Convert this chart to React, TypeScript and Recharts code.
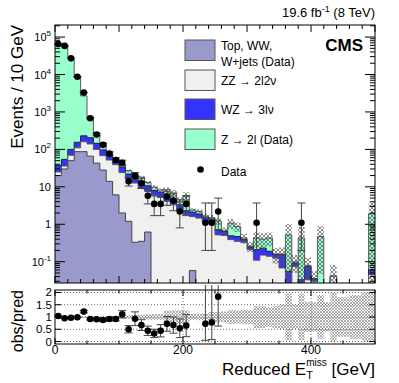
import React from 'react';
import { ComposedChart, Area, Scatter, ErrorBar, XAxis, YAxis, ReferenceLine } from 'recharts';

const FONT = '"Liberation Sans", Arial, Helvetica, "DejaVu Sans", sans-serif';

// ---- categories: lower edge of each 10 GeV bin ----
const binLowEdge = [
  0, 10, 20, 30, 40, 50, 60, 70, 80, 90,
  100, 110, 120, 130, 140, 150, 160, 170, 180, 190,
  200, 210, 220, 230, 240, 250, 260, 270, 280, 290,
  300, 310, 320, 330, 340, 350, 360, 370, 380, 390,
  400, 410, 420, 430, 440, 450, 460, 470, 480, 490,
];

// ---- stacked backgrounds (events / bin) ----
const topWwWjets = [
  20, 30, 50, 87, 87, 66, 43, 28, 14, 6.1,
  2.0, 1.2, 0.33, 0.35, 0.62, 0, 0, 0, 0, 0,
  0, 0.058, 0, 0, 0, 0, 0, 0, 0, 0,
  0, 0, 0, 0, 0, 0, 0, 0, 0, 0,
  0, 0, 0, 0, 0, 0, 0, 0, 0, 0,
];
const zz2l2nu = [
  5, 6, 20, 23, 73, 74, 57, 40, 38, 33,
  22, 14.8, 12.3, 8.9, 6.9, 6.0, 5.2, 4.1, 3.3, 2.3,
  1.8, 1.54, 1.46, 1.19, 1.07, 0.52, 0.5, 0.39, 0.35, 0.33,
  0.21, 0.11, 0.15, 0.14, 0.125, 0.068, 0.02, 0.075, 0.028, 0.033,
  0.03, 0.01, 0, 0.041, 0, 0, 0, 0, 0, 0.045,
];
const wz3lnu = [
  12, 18, 30, 45, 70, 65, 45, 29, 20, 14,
  10, 6, 6.4, 4.8, 3.1, 2.0, 2.0, 1.7, 1.2, 1.0,
  0.5, 0.5, 0.41, 0.31, 0.3, 0.19, 0.14, 0.1, 0.12, 0.06,
  0.04, 0.1, 0.08, 0.05, 0.03, 0.086, 0.035, 0.017, 0.005, 0.042,
  0.005, 0.01, 0, 0, 0, 0, 0, 0, 0, 0.017,
];
const z2lData = [
  63000, 60950, 27700, 8550, 2470, 535, 125, 53, 12, 4,
  6, 5, 3, 4, 2.4, 1.8, 1.0, 1.7, 2.0, 0.8,
  3.3, 0.3, 0.33, 0.15, 0.12, 0.5, 0.03, 0.58, 0.4, 0.04,
  0.01, 0.22, 0.17, 0.24, 0.005, 0.006, 0.465, 0.008, 0.4, 0.005,
  0, 0.45, 0, 0, 0, 0, 0, 0, 0, 1.85,
];
// relative uncertainty of the prediction (hatched band)
const relUncertainty = [
  0.03, 0.03, 0.03, 0.03, 0.04, 0.04, 0.04, 0.04, 0.04, 0.04,
  0.06, 0.07, 0.08, 0.09, 0.1, 0.12, 0.12, 0.27, 0.27, 0.27,
  0.28, 0.12, 0.13, 0.15, 0.2, 0.2, 0.22, 0.3, 0.28, 0.3,
  0.3, 0.45, 0.45, 0.4, 0.45, 0.5, 0.95, 0.5, 0.95, 0.6,
  0.6, 0.9, 0.6, 1.0, 0.8, 0.8, 0.9, 0.9, 1.0, 1.0,
];

// ---- observed data ----
const observed: (number | null)[] = [
  65500, 58000, 27000, 8700, 3300, 680, 250, 132, 77, 52,
  44, 14, 19.6, 12.5, 5.8, 3.5, 3.5, 5.5, 4.3, 2.2,
  3.5, null, null, 1.1, 1.1, 2.2, null, null, null, null,
  null, 1.1, null, null, null, null, null, null, 1.1, null,
  null, null, null, null, null, null, null, null, null, null,
];
const observedErrLow = [
  256, 240, 165, 93, 57, 26, 16, 11, 8.5, 7,
  6.5, 3.5, 4, 3.5, 2.3, 1.8, 1.8, 2.3, 2.0, 1.4,
  1.8, 0, 0, 0.9, 0.9, 1.5, 0, 0, 0, 0,
  0, 0.9, 0, 0, 0, 0, 0, 0, 0.9, 0,
  0, 0, 0, 0, 0, 0, 0, 0, 0, 0,
];
const observedErrHigh = [
  256, 240, 165, 93, 57, 26, 16, 12, 9.5, 8,
  7.5, 4, 4.5, 4, 2.7, 2.2, 2.2, 2.8, 2.5, 2.3,
  2.3, 0, 0, 2.6, 2.6, 2.8, 0, 0, 0, 0,
  0, 2.6, 0, 0, 0, 0, 0, 0, 2.6, 0,
  0, 0, 0, 0, 0, 0, 0, 0, 0, 0,
];

// ---- obs/pred ratio ----
const ratio: (number | null)[] = [
  1.04, 0.95, 0.97, 0.99, 1.22, 0.92, 0.91, 0.88, 0.92, 0.92,
  1.11, 0.5, 0.93, 0.67, 0.44, 0.33, 0.44, 0.72, 0.67, 0.54,
  0.65, null, null, 0.72, 0.78, 1.83, null, null, null, null,
  null, null, null, null, null, null, null, null, null, null,
  null, null, null, null, null, null, null, null, null, null,
];
const ratioErrLow = [
  0.01, 0.01, 0.01, 0.01, 0.05, 0.04, 0.05, 0.06, 0.07, 0.08,
  0.15, 0.15, 0.28, 0.22, 0.19, 0.17, 0.25, 0.3, 0.33, 0.38,
  0.45, 0, 0, 0.67, 0.7, 1.2, 0, 0, 0, 0,
  0, 0, 0, 0, 0, 0, 0, 0, 0, 0,
  0, 0, 0, 0, 0, 0, 0, 0, 0, 0,
];
const ratioErrHigh = [
  0.01, 0.01, 0.01, 0.01, 0.05, 0.04, 0.05, 0.06, 0.07, 0.08,
  0.15, 0.15, 0.28, 0.22, 0.19, 0.17, 0.25, 0.3, 0.33, 0.38,
  0.45, 0, 0, 1.6, 1.6, 1.8, 0, 0, 0, 0,
  0, 0, 0, 0, 0, 0, 0, 0, 0, 0,
  0, 0, 0, 0, 0, 0, 0, 0, 0, 0,
];

const COLORS = {
  top: '#9999cc',
  zz: '#f0f0f0',
  wz: '#3333ff',
  z2l: '#99ffcc',
};

const legendItems = [
  { lines: ['Top, WW,', 'W+jets (Data)'], color: COLORS.top },
  { lines: ['ZZ \u2192 2l2\u03bd'], color: COLORS.zz },
  { lines: ['WZ \u2192 3l\u03bd'], color: COLORS.wz },
  { lines: ['Z \u2192 2l (Data)'], color: COLORS.z2l },
];

// ---- layout ----
const W = 399;
const PLOT_L = 55;
const PLOT_R = 375;
const PW = PLOT_R - PLOT_L;
const MAIN_T = 25;
const MAIN_B = 283;
const MAIN_H = MAIN_B - MAIN_T;
const RAT_T = 290;
const RAT_B = 344;
const RAT_H = RAT_B - RAT_T;

const Y_MIN = 0.027;
const Y_MAX = 2.1e5;
const FLOOR = 1e-3;
const f = (v: number) => Math.max(v, FLOOR);

const mainRows: any[] = binLowEdge.map((x, i) => {
  const p = topWwWjets[i];
  const pz = p + zz2l2nu[i];
  const pzw = pz + wz3lnu[i];
  const t = pzw + z2lData[i];
  const e = relUncertainty[i];
  return {
    x,
    p: f(p),
    pz: f(pz),
    pzw: f(pzw),
    t: f(t),
    band: t > 0 ? [f(t * (1 - e)), f(t * (1 + e))] : [FLOOR, FLOOR],
    rband: [1 - e, 1 + e],
  };
});
mainRows.push({ ...mainRows[mainRows.length - 1], x: 500 });

const mainPoints = binLowEdge
  .map((x, i) =>
    observed[i] == null
      ? null
      : { x: x + 5, y: observed[i], err: [observedErrLow[i], observedErrHigh[i]] }
  )
  .filter(Boolean) as any[];

const ratioPoints = binLowEdge
  .map((x, i) =>
    ratio[i] == null ? null : { x: x + 5, y: ratio[i], err: [ratioErrLow[i], ratioErrHigh[i]] }
  )
  .filter(Boolean) as any[];

const logTicks: number[] = [];
for (let d = -2; d <= 5; d++) {
  for (let m = 1; m <= 9; m++) {
    const v = m * Math.pow(10, d);
    if (v >= Y_MIN && v <= Y_MAX) logTicks.push(v);
  }
}
const mainXTicks: number[] = [];
for (let v = 0; v <= 500; v += 20) mainXTicks.push(v);
const ratioXTicks: number[] = [];
for (let v = 0; v <= 500; v += 50) ratioXTicks.push(v);
const ratioYTicks = [0, 0.5, 1, 1.5, 2];

const MainYTick = (props: any) => {
  const { x, y, payload } = props;
  const v = payload.value;
  const lg = Math.log10(v);
  const ex = Math.round(lg);
  const major = Math.abs(lg - ex) < 1e-6;
  const len = major ? 10 : 5;
  let label: any = null;
  if (major) {
    if (ex === 0 || ex === 1) {
      label = (
        <text x={x - 4} y={y + 4} textAnchor="end" fontSize={11} fontFamily={FONT} fill="#000">
          {ex === 0 ? '1' : '10'}
        </text>
      );
    } else {
      label = (
        <text x={x - 4} y={y + 4} textAnchor="end" fontSize={11} fontFamily={FONT} fill="#000">
          10
          <tspan dy={-5} fontSize={8}>
            {String(ex)}
          </tspan>
        </text>
      );
    }
  }
  return (
    <g>
      <line x1={x} x2={x + len} y1={y} y2={y} stroke="#000" strokeWidth={1} />
      <line x1={x + PW} x2={x + PW - len} y1={y} y2={y} stroke="#000" strokeWidth={1} />
      {label}
    </g>
  );
};

const MainXTick = (props: any) => {
  const { x, y, payload } = props;
  const v = payload.value;
  const len = v % 100 === 0 ? 7 : 4;
  return (
    <g>
      <line x1={x} x2={x} y1={y} y2={y - len} stroke="#000" strokeWidth={1} />
      <line x1={x} x2={x} y1={y - MAIN_H} y2={y - MAIN_H + len} stroke="#000" strokeWidth={1} />
    </g>
  );
};

const RatioXTick = (props: any) => {
  const { x, y, payload } = props;
  const v = payload.value;
  const len = v % 200 === 0 ? 6 : 3.5;
  return (
    <g>
      <line x1={x} x2={x} y1={y} y2={y - len} stroke="#000" strokeWidth={1} />
      <line x1={x} x2={x} y1={y - RAT_H} y2={y - RAT_H + len} stroke="#000" strokeWidth={1} />
      {v % 200 === 0 && v < 500 ? (
        <text x={x} y={y + 9.5} textAnchor="middle" fontSize={12} fontFamily={FONT} fill="#000">
          {String(v)}
        </text>
      ) : null}
    </g>
  );
};

const RatioYTick = (props: any) => {
  const { x, y, payload } = props;
  const v = payload.value;
  return (
    <g>
      <line x1={x} x2={x + 6} y1={y} y2={y} stroke="#000" strokeWidth={1} />
      <line x1={x + PW} x2={x + PW - 6} y1={y} y2={y} stroke="#000" strokeWidth={1} />
      <text x={x - 3} y={y + 4} textAnchor="end" fontSize={11.5} fontFamily={FONT} fill="#000">
        {String(v)}
      </text>
    </g>
  );
};

const DataDot = (props: any) => {
  const { cx, cy } = props;
  if (cx == null || cy == null) return null;
  return <circle cx={cx} cy={cy} r={3.3} fill="#000" />;
};

export default function App() {
  return (
    <div
      style={{
        position: 'absolute',
        left: 0,
        top: 0,
        width: W,
        height: 383,
        background: '#fff',
        fontFamily: FONT,
      }}
    >
      <svg width={0} height={0} style={{ position: 'absolute' }}>
        <defs>
          <pattern id="hatchMain" width="4" height="4" patternUnits="userSpaceOnUse">
            <path d="M0,0 L4,4 M4,0 L0,4" stroke="#555" strokeWidth="0.7" />
          </pattern>
          <pattern id="hatchRatio" width="3" height="3" patternUnits="userSpaceOnUse">
            <path d="M0,0 L3,3 M3,0 L0,3" stroke="#777" strokeWidth="0.6" />
          </pattern>
        </defs>
      </svg>

      <div style={{ position: 'absolute', left: 0, top: 0 }}>
        <ComposedChart
          width={W}
          height={288}
          data={mainRows}
          margin={{ top: MAIN_T, right: W - PLOT_R, bottom: 0, left: 0 }}
        >
          <XAxis
            dataKey="x"
            type="number"
            domain={[0, 500]}
            ticks={mainXTicks}
            interval={0}
            height={5}
            tickSize={0}
            tickMargin={0}
            axisLine={false}
            tickLine={false}
            tick={(p: any) => <MainXTick {...p} />}
            allowDataOverflow
          />
          <YAxis
            type="number"
            scale="log"
            domain={[Y_MIN, Y_MAX]}
            ticks={logTicks}
            interval={0}
            width={PLOT_L}
            tickSize={0}
            tickMargin={0}
            axisLine={false}
            tickLine={false}
            tick={(p: any) => <MainYTick {...p} />}
            allowDataOverflow
          />
          <Area dataKey="t" type="stepAfter" fill={COLORS.z2l} fillOpacity={1} stroke="#5a5a5a" strokeWidth={1} baseValue={Y_MIN} isAnimationActive={false} />
          <Area dataKey="pzw" type="stepAfter" fill={COLORS.wz} fillOpacity={1} stroke="#222" strokeWidth={1} baseValue={Y_MIN} isAnimationActive={false} />
          <Area dataKey="pz" type="stepAfter" fill={COLORS.zz} fillOpacity={1} stroke="#555" strokeWidth={1} baseValue={Y_MIN} isAnimationActive={false} />
          <Area dataKey="p" type="stepAfter" fill={COLORS.top} fillOpacity={1} stroke="#444" strokeWidth={1} baseValue={Y_MIN} isAnimationActive={false} />
          <Area dataKey="band" type="stepAfter" fill="url(#hatchMain)" fillOpacity={1} stroke="none" isAnimationActive={false} />
          <Scatter data={mainPoints} dataKey="y" fill="#000" shape={(p: any) => <DataDot {...p} />} isAnimationActive={false}>
            <ErrorBar dataKey="err" direction="y" width={4} stroke="#444" strokeWidth={1} />
          </Scatter>
        </ComposedChart>
      </div>

      <div style={{ position: 'absolute', left: 0, top: RAT_T - 5 }}>
        <ComposedChart
          width={W}
          height={98}
          data={mainRows}
          margin={{ top: 5, right: W - PLOT_R, bottom: 0, left: 0 }}
        >
          <XAxis
            dataKey="x"
            type="number"
            domain={[0, 500]}
            ticks={ratioXTicks}
            interval={0}
            height={98 - 5 - RAT_H}
            tickSize={0}
            tickMargin={0}
            axisLine={false}
            tickLine={false}
            tick={(p: any) => <RatioXTick {...p} />}
            allowDataOverflow
          />
          <YAxis
            type="number"
            domain={[-0.1, 2.1]}
            ticks={ratioYTicks}
            interval={0}
            width={PLOT_L}
            tickSize={0}
            tickMargin={0}
            axisLine={false}
            tickLine={false}
            tick={(p: any) => <RatioYTick {...p} />}
            allowDataOverflow
          />
          {ratioYTicks.map((v) => (
            <ReferenceLine key={'h' + v} y={v} stroke="#666" strokeDasharray="1 2" strokeWidth={1} />
          ))}
          <ReferenceLine x={200} stroke="#666" strokeDasharray="1 2" strokeWidth={1} />
          <ReferenceLine x={400} stroke="#666" strokeDasharray="1 2" strokeWidth={1} />
          <Area dataKey="rband" type="stepAfter" fill="url(#hatchRatio)" fillOpacity={1} stroke="none" isAnimationActive={false} />
          <Scatter data={ratioPoints} dataKey="y" fill="#000" shape={(p: any) => <DataDot {...p} />} isAnimationActive={false}>
            <ErrorBar dataKey="err" direction="y" width={4} stroke="#444" strokeWidth={1} />
          </Scatter>
        </ComposedChart>
      </div>

      <svg
        width={W}
        height={383}
        style={{ position: 'absolute', left: 0, top: 0, pointerEvents: 'none' }}
        fontFamily={FONT}
      >
        <rect x={PLOT_L} y={MAIN_T} width={PW} height={MAIN_H} fill="none" stroke="#000" strokeWidth={1} />
        <rect x={PLOT_L} y={RAT_T} width={PW} height={RAT_H} fill="none" stroke="#000" strokeWidth={1} />

        <text x={PLOT_R} y={17} textAnchor="end" fontSize={13} fill="#000">
          19.6 fb
          <tspan dy={-5} fontSize={9}>-1</tspan>
          <tspan dy={5}> (8 TeV)</tspan>
        </text>
        <text x={363} y={51} textAnchor="end" fontSize={17} fontWeight="bold" fill="#000">
          CMS
        </text>

        {legendItems.map((it, i) => {
          const boxTop = [40, 70, 99, 129][i];
          return (
            <g key={i}>
              <rect x={185} y={boxTop} width={30} height={20.5} fill={it.color} stroke="#555" strokeWidth={1} />
              {it.lines.length === 2 ? (
                <>
                  <text x={221} y={50} fontSize={12} fill="#000">{it.lines[0]}</text>
                  <text x={221} y={66} fontSize={12} fill="#000">{it.lines[1]}</text>
                </>
              ) : (
                <text x={221} y={boxTop + 14.5} fontSize={12} fill="#000">{it.lines[0]}</text>
              )}
            </g>
          );
        })}
        <circle cx={200.5} cy={169.5} r={3.3} fill="#000" />
        <text x={221} y={175.5} fontSize={12} fill="#000">Data</text>

        <text x={23} y={MAIN_T} transform={`rotate(-90 23 ${MAIN_T})`} textAnchor="end" fontSize={17} fill="#000">
          Events / 10 GeV
        </text>
        <text x={23} y={RAT_T} transform={`rotate(-90 23 ${RAT_T})`} textAnchor="end" fontSize={16} fill="#000">
          obs/pred
        </text>
        <text x={PLOT_R} y={375} textAnchor="end" fontSize={17} fill="#000">
          Reduced E
          <tspan dy={4} fontSize={11}>T</tspan>
          <tspan dx={-6.7} dy={-13.5} fontSize={10}>miss</tspan>
          <tspan dy={9.5}> [GeV]</tspan>
        </text>
      </svg>
    </div>
  );
}
